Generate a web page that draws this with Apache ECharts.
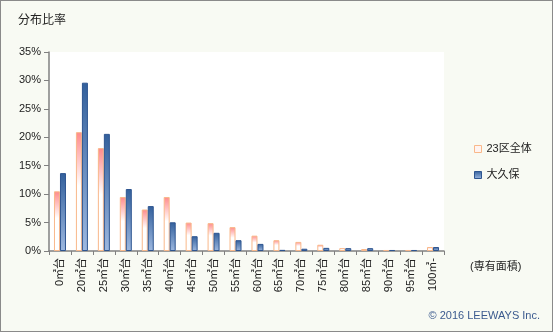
<!DOCTYPE html>
<html>
<head>
<meta charset="utf-8">
<script src="https://cdn.jsdelivr.net/npm/echarts@6/dist/echarts.min.js"></script>
<style>
html,body{margin:0;padding:0;background:#f8faf3;}
#c{width:551px;height:330px;border:1px solid #8a8a8a;}
</style>
</head>
<body>
<div id="c"></div>
<script>
var categories = ['0㎡台','20㎡台','25㎡台','30㎡台','35㎡台','40㎡台','45㎡台','50㎡台','55㎡台','60㎡台','65㎡台','70㎡台','75㎡台','80㎡台','85㎡台','90㎡台','95㎡台','100㎡-'];
var wardAll = [10.5, 20.9, 18.1, 9.5, 7.3, 9.5, 5.0, 4.9, 4.2, 2.7, 1.9, 1.6, 1.1, 0.5, 0.35, 0.18, 0.18, 0.7];
var okubo = [13.7, 29.6, 20.6, 10.9, 7.9, 5.05, 2.6, 3.2, 1.9, 1.25, 0.2, 0.4, 0.55, 0.5, 0.5, 0.18, 0.18, 0.7];
var yTicks = [0, 5, 10, 15, 20, 25, 30, 35];
var seriesNames = ['23区全体', '大久保'];

var FONT = 'Liberation Sans, "Noto Sans CJK JP", sans-serif';
var chart = echarts.init(document.getElementById('c'), null, {renderer: 'canvas'});
var pinkFill = new echarts.graphic.LinearGradient(0, 0, 0, 1, [
  {offset: 0, color: '#ff8a8a'}, {offset: 0.45, color: '#ffffff'}, {offset: 1, color: '#ffffff'}]);
var blueFill = new echarts.graphic.LinearGradient(0, 0, 0, 1, [
  {offset: 0, color: '#33609c'}, {offset: 1, color: '#9db8e0'}]);
chart.setOption({
  backgroundColor: '#f8faf3',
  animation: false,
  textStyle: {fontFamily: FONT},
  title: {text: '分布比率', left: 12, top: 9, textStyle: {fontSize: 12, fontWeight: 'normal', color: '#222', fontFamily: FONT}},
  grid: {left: 48, right: 108, top: 51, bottom: 80, show: true, backgroundColor: '#ffffff', borderWidth: 0},
  legend: {
    orient: 'vertical', left: 468, top: 136, itemWidth: 7, itemHeight: 7, itemGap: 12,
    textStyle: {fontSize: 11, color: '#222', lineHeight: 14, fontFamily: FONT},
    data: [
      {name: seriesNames[0], icon: 'rect', itemStyle: {color: '#fff3f0', borderColor: '#f9b88a', borderWidth: 1}},
      {name: seriesNames[1], icon: 'rect', itemStyle: {color: blueFill, borderColor: '#2e5590', borderWidth: 1}}
    ]
  },
  xAxis: {
    type: 'category', data: categories,
    axisLine: {lineStyle: {color: '#808080', width: 1.5}},
    axisTick: {show: true, length: 4, lineStyle: {color: '#808080'}},
    axisLabel: {rotate: 90, fontSize: 11, color: '#222', margin: 7, fontFamily: FONT}
  },
  yAxis: {
    type: 'value', min: 0, max: 35, interval: 5,
    splitLine: {show: false},
    axisLine: {show: true, lineStyle: {color: '#808080', width: 1.5}},
    axisTick: {show: true, length: 5, lineStyle: {color: '#808080'}},
    axisLabel: {fontSize: 11, color: '#222', margin: 8, fontFamily: FONT, formatter: function(v){ return yTicks.indexOf(v) >= 0 ? v + '%' : ''; }}
  },
  series: [
    {name: seriesNames[0], type: 'bar', data: wardAll, barWidth: 6, barGap: '0%',
     itemStyle: {color: pinkFill, borderColor: '#f9b88a', borderWidth: 1}},
    {name: seriesNames[1], type: 'bar', data: okubo, barWidth: 6,
     itemStyle: {color: blueFill, borderColor: '#2e5590', borderWidth: 1}}
  ],
  graphic: [
    {type: 'text', left: 469, top: 260, style: {text: '(専有面積)', fontSize: 11, fill: '#222', fontFamily: FONT}},
    {type: 'text', right: 12, top: 309, style: {text: '© 2016 LEEWAYS Inc.', fontSize: 11, fill: '#3b5a8e', fontFamily: FONT}}
  ]
});
</script>
</body>
</html>
